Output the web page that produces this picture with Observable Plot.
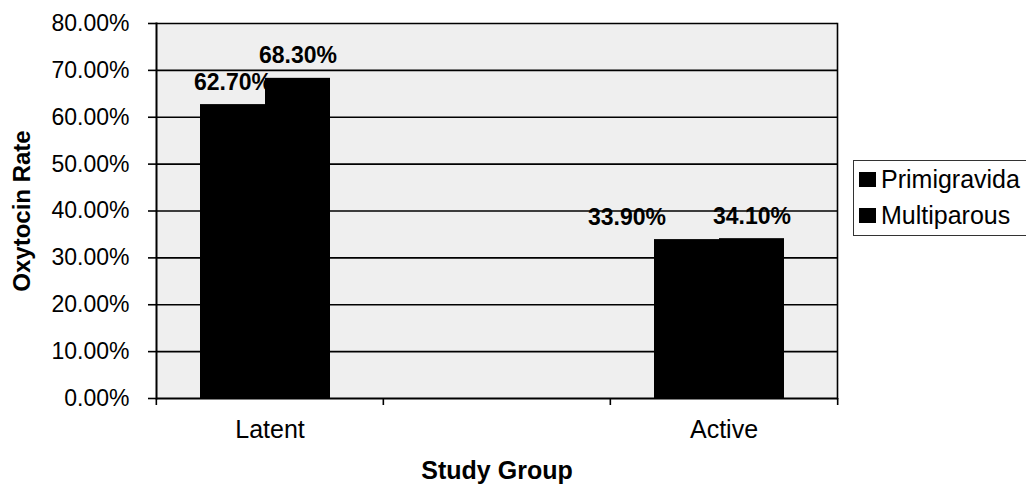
<!DOCTYPE html>
<html>
<head>
<meta charset="utf-8">
<script src="https://cdn.jsdelivr.net/npm/d3@7"></script>
<script src="https://cdn.jsdelivr.net/npm/@observablehq/plot@0.6"></script>
<style>
  html, body { margin: 0; padding: 0; background: #fff; overflow: hidden; }
  #wrap { position: relative; width: 1026px; height: 485px; font-family: "Liberation Sans", Arial, sans-serif; }
  #legend { position: absolute; left: 853px; top: 160px; width: 200px; height: 76px; border: 1px solid #333; box-sizing: border-box; background: #fff; }
  .item { position: absolute; left: 5px; display: flex; align-items: center; font-size: 25px; line-height: 1; color: #000; }
  .swatch { width: 17px; height: 15px; margin-right: 5px; }
</style>
</head>
<body>
<div id="wrap">
  <div id="chart"></div>
  <div id="legend"></div>
</div>
<script>
// Study groups (the middle category is a blank spacer column)
const groups = ["Latent", "", "Active"];
const series = ["Primigravida", "Multiparous"];
const seriesColors = ["#000000", "#000000"];

// Oxytocin rate (%) per study group
const primigravida = [62.7, null, 33.9];
const multiparous = [68.3, null, 34.1];

const yTicks = [0, 10, 20, 30, 40, 50, 60, 70, 80];

const values = [primigravida, multiparous];
const rows = groups.flatMap((group, i) =>
  series.map((s, j) => ({group, series: s, value: values[j][i]}))
);

const fmt = (v) => v == null ? null : v.toFixed(2) + "%";

const W = 1026, H = 485;
const mL = 155, mR = 189, mT = 23, mB = 87;
const step = (W - mL - mR) / groups.length;

const isShifted = (d) => d.group === "Active" && d.series === "Primigravida";

const chart = Plot.plot({
  width: W,
  height: H,
  marginLeft: mL,
  marginRight: mR,
  marginTop: mT,
  marginBottom: mB,
  style: {fontFamily: "'Liberation Sans', Arial, sans-serif", color: "#000", background: "transparent"},
  fx: {domain: groups, padding: 0, label: null, axis: null},
  x: {domain: series, paddingInner: 0, paddingOuter: 0.72, align: 0.45, axis: null},
  y: {domain: [0, 80], axis: null},
  color: {domain: series, range: seriesColors, legend: false},
  marks: [
    // plot area background
    Plot.frame({fill: "#efefef", stroke: null, facet: "super"}),
    // horizontal gridlines
    Plot.ruleY(yTicks.filter((d) => d > 0), {stroke: "#000", strokeWidth: 1.6}),
    // bars
    Plot.barY(rows, {fx: "group", x: "series", y: "value", fill: "series"}),
    // baseline and borders
    Plot.ruleY([0], {stroke: "#000", strokeWidth: 2}),
    Plot.frame({anchor: "right", stroke: "#000", strokeWidth: 1.6, facet: "super"}),
    Plot.frame({anchor: "left", stroke: "#000", strokeWidth: 2, facet: "super"}),
    // y axis ticks and labels
    Plot.axisY({ticks: yTicks, tickFormat: (d) => d.toFixed(2) + "%", tickSize: 8, tickPadding: 19, fontSize: 23, strokeWidth: 1.6, label: null}),
    // y axis title
    Plot.axisY({ticks: [], label: "Oxytocin Rate", labelAnchor: "center", labelArrow: "none", labelOffset: 144, fontSize: 24, fontWeight: "bold"}),
    // category labels
    Plot.axisFx({anchor: "bottom", tickSize: 0, tickPadding: 22, fontSize: 25, label: null}),
    // category boundary ticks
    Plot.axisFx({anchor: "bottom", tickFormat: () => "", tickSize: 7, strokeWidth: 1.6, dx: -step / 2, label: null}),
    Plot.axisFx({anchor: "bottom", ticks: ["Active"], tickFormat: () => "", tickSize: 7, strokeWidth: 1.6, dx: step / 2, label: null}),
    // value labels
    Plot.text(rows.filter((d) => d.value != null && !isShifted(d)), {
      fx: "group", x: "series", y: "value", text: (d) => fmt(d.value),
      lineAnchor: "bottom", dy: -15, fontSize: 23, fontWeight: "bold"
    }),
    Plot.text(rows.filter((d) => d.value != null && isShifted(d)), {
      fx: "group", x: "series", y: "value", text: (d) => fmt(d.value),
      lineAnchor: "bottom", dy: -15, dx: -60, fontSize: 23, fontWeight: "bold"
    }),
    // x axis title
    Plot.text(["Study Group"], {frameAnchor: "bottom", dy: 80, fontSize: 25, fontWeight: "bold", facet: "super"})
  ]
});

document.getElementById("chart").appendChild(chart);

// legend
const legend = document.getElementById("legend");
series.forEach((s, i) => {
  const item = document.createElement("div");
  item.className = "item";
  item.style.top = (6 + i * 36) + "px";
  const sw = document.createElement("span");
  sw.className = "swatch";
  sw.style.background = seriesColors[i];
  const label = document.createElement("span");
  label.textContent = s;
  item.appendChild(sw);
  item.appendChild(label);
  legend.appendChild(item);
});
</script>
</body>
</html>
